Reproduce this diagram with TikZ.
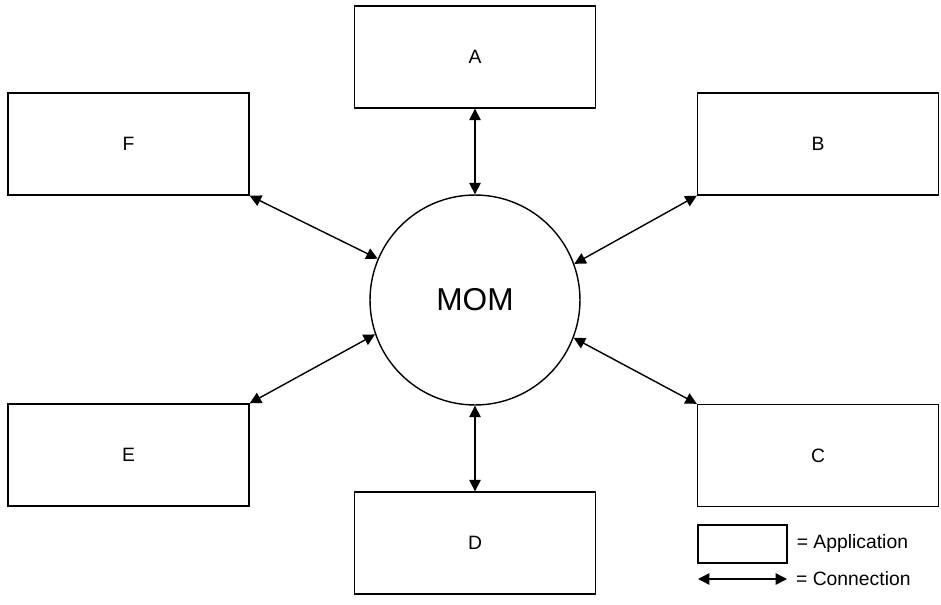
\documentclass[tikz,border=0pt]{standalone}
\usepackage{fontspec}
\setmainfont{Liberation Sans}
\usepackage{tikz}
\usetikzlibrary{arrows.meta}

\begin{document}
\begin{tikzpicture}[x=0.02cm,y=-0.02cm,
    app/.style={draw,line width=0.8pt,minimum width=4.82cm,minimum height=2.04cm,
      font=\fontsize{11pt}{13pt}\selectfont},
    conn/.style={{Triangle[length=6.5pt,width=6.5pt]}-{Triangle[length=6.5pt,width=6.5pt]},line width=0.8pt},
    legtext/.style={anchor=west,inner sep=2pt,font=\fontsize{11pt}{13pt}\selectfont}]
            \useasboundingbox (0,0) rectangle (941,605);
            \coordinate (a) at (475,57);
            \coordinate (b) at (818,144);
            \coordinate (c) at (818,455.5);
            \coordinate (d) at (475,543);
            \coordinate (e) at (128.5,455);
            \coordinate (f) at (128.5,144);
            \node[app] (A) at (a) {A};
            \node[app] (B) at (b) {B};
            \node[app] (C) at (c) {C};
            \node[app] (D) at (d) {D};
            \node[app] (E) at (e) {E};
            \node[app] (F) at (f) {F};
            \node[draw,circle,line width=0.8pt,minimum size=4.2cm,font=\fontsize{18pt}{20pt}\selectfont] (mom) at (475,300) {MOM};
            \draw[conn] (A.south) -- (mom.north);
            \draw[conn] (mom.south) -- (D.north);
            \draw[conn] (F.south east) -- (mom.157);
            \draw[conn] (B.south west) -- (mom.20);
            \draw[conn] (E.north east) -- (mom.199);
            \draw[conn] (C.north west) -- (mom.339);
            % legend
            \node[app,minimum width=1.78cm,minimum height=0.76cm] (leg) at (742.5,544) {};
            \node[legtext] at ([xshift=3pt]leg.east) {= Application};
            \coordinate (l1) at (698,579);
            \coordinate (l2) at (787,579);
            \draw[conn] (l1) -- (l2);
            \node[legtext] at ([xshift=3pt]l2) {= Connection};
        \end{tikzpicture}
\end{document}
